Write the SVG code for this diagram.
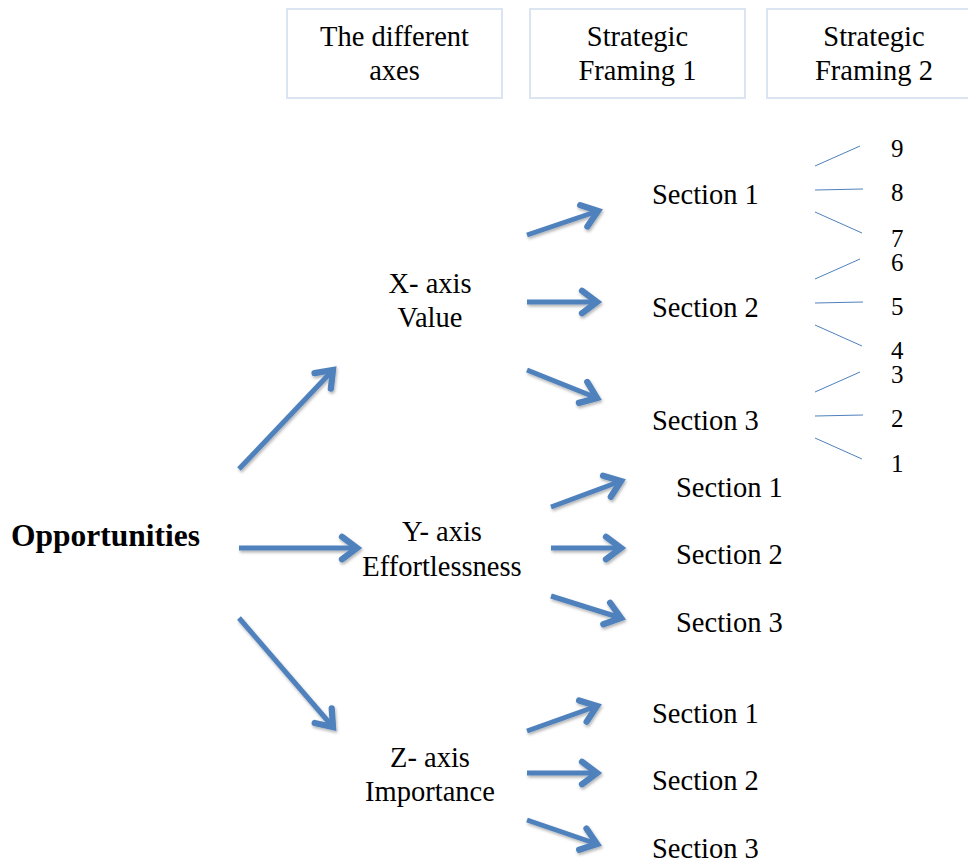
<svg xmlns="http://www.w3.org/2000/svg" width="968" height="860" viewBox="0 0 968 860" font-family="'Liberation Serif', Tinos, 'Times New Roman', 'DejaVu Serif', serif">
  <defs>
    <style>
      text { font-family: "Liberation Serif", Tinos, "Times New Roman", "DejaVu Serif", serif; font-size: 28.5px; fill: #000; }
      .c { text-anchor: middle; }
      .b { font-weight: bold; font-size: 31.5px; }
      .n { font-size: 25px; }
      .hdr { fill: #fff; stroke: #dbe5f1; stroke-width: 2; }
      .arr { fill: none; stroke: #4f81bd; stroke-width: 5; stroke-linecap: butt; marker-end: url(#chev); filter: url(#sh); }
      .thin { stroke: #4f81bd; stroke-width: 1; fill: none; }
    </style>
    <marker id="chev" markerUnits="userSpaceOnUse" markerWidth="30" markerHeight="30" viewBox="-16 -12 20 24" refX="0" refY="0" orient="auto">
      <path d="M-12,-9 L0,0 L-12,9" fill="none" stroke="#4f81bd" stroke-width="5" stroke-linejoin="miter" stroke-linecap="round"/>
    </marker>
    <filter id="sh" filterUnits="userSpaceOnUse" x="0" y="0" width="968" height="860">
      <feDropShadow dx="1" dy="2" stdDeviation="1.5" flood-color="#000" flood-opacity="0.3"/>
    </filter>
  </defs>

  <!-- column headers -->
  <g id="hdr-axes">
    <rect class="hdr" x="287" y="9" width="215" height="89"/>
    <text class="c" x="394.5" y="46">The different</text>
    <text class="c" x="394.5" y="80">axes</text>
  </g>
  <g id="hdr-framing1">
    <rect class="hdr" x="530" y="9" width="215" height="89"/>
    <text class="c" x="637.5" y="46">Strategic</text>
    <text class="c" x="637.5" y="80">Framing 1</text>
  </g>
  <g id="hdr-framing2">
    <rect class="hdr" x="767" y="9" width="215" height="89"/>
    <text class="c" x="874" y="46">Strategic</text>
    <text class="c" x="874" y="80">Framing 2</text>
  </g>

  <!-- root -->
  <g id="opportunities">
    <text class="b" x="11" y="546">Opportunities</text>
  </g>

  <!-- axes -->
  <g id="x-axis">
    <text class="c" x="430" y="293">X- axis</text>
    <text class="c" x="430" y="327">Value</text>
  </g>
  <g id="y-axis">
    <text class="c" x="442" y="541">Y- axis</text>
    <text class="c" x="442" y="576">Effortlessness</text>
  </g>
  <g id="z-axis">
    <text class="c" x="430" y="767">Z- axis</text>
    <text class="c" x="430" y="801">Importance</text>
  </g>

  <!-- sections -->
  <g id="x-sections">
    <text x="652" y="204">Section 1</text>
    <text x="652" y="317">Section 2</text>
    <text x="652" y="430">Section 3</text>
  </g>
  <g id="y-sections">
    <text x="676" y="497">Section 1</text>
    <text x="676" y="564">Section 2</text>
    <text x="676" y="632">Section 3</text>
  </g>
  <g id="z-sections">
    <text x="652" y="723">Section 1</text>
    <text x="652" y="790">Section 2</text>
    <text x="652" y="858">Section 3</text>
  </g>

  <!-- ranks -->
  <g id="ranks">
    <text class="n" x="891" y="157">9</text>
    <text class="n" x="891" y="201">8</text>
    <text class="n" x="891" y="247">7</text>
    <text class="n" x="891" y="271">6</text>
    <text class="n" x="891" y="315">5</text>
    <text class="n" x="891" y="359">4</text>
    <text class="n" x="891" y="383">3</text>
    <text class="n" x="891" y="427">2</text>
    <text class="n" x="891" y="472">1</text>
  </g>

  <!-- connectors -->
  <g id="connectors">
    <line class="arr" x1="239" y1="469" x2="333" y2="370"/>
    <line class="arr" x1="239" y1="548" x2="357" y2="548"/>
    <line class="arr" x1="239" y1="618" x2="333" y2="727"/>

    <line class="arr" x1="527" y1="235" x2="598" y2="211"/>
    <line class="arr" x1="527" y1="302" x2="597" y2="302"/>
    <line class="arr" x1="527" y1="370" x2="597" y2="398"/>

    <line class="arr" x1="551" y1="507" x2="621" y2="481"/>
    <line class="arr" x1="551" y1="548" x2="621" y2="548"/>
    <line class="arr" x1="551" y1="596" x2="621" y2="618"/>

    <line class="arr" x1="527" y1="731" x2="597" y2="706"/>
    <line class="arr" x1="527" y1="773" x2="597" y2="773"/>
    <line class="arr" x1="527" y1="820" x2="597" y2="844"/>

    <line class="thin" x1="815" y1="166" x2="860" y2="146"/>
    <line class="thin" x1="815" y1="190" x2="863" y2="189"/>
    <line class="thin" x1="815" y1="212" x2="862" y2="233"/>
    <line class="thin" x1="815" y1="279" x2="860" y2="259"/>
    <line class="thin" x1="815" y1="303" x2="863" y2="302"/>
    <line class="thin" x1="815" y1="325" x2="862" y2="346"/>
    <line class="thin" x1="815" y1="392" x2="860" y2="372"/>
    <line class="thin" x1="815" y1="416" x2="863" y2="415"/>
    <line class="thin" x1="815" y1="438" x2="862" y2="459"/>
  </g>
</svg>
